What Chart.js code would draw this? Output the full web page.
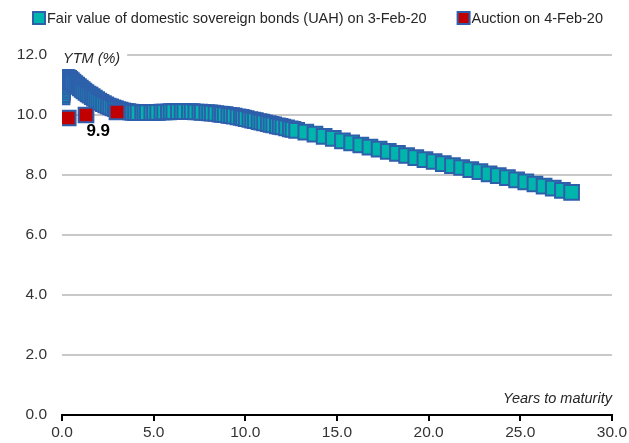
<!DOCTYPE html>
<html>
<head>
<meta charset="utf-8">
<script src="https://cdn.jsdelivr.net/npm/chart.js@4.4.1/dist/chart.umd.min.js"></script>
<style>
  html, body { margin: 0; padding: 0; background: #ffffff; }
  #wrap { width: 629px; height: 443px; }
</style>
</head>
<body>
<div id="wrap"><canvas id="c" width="629" height="443"></canvas></div>
<script>
// Fair value curve of domestic sovereign bonds (UAH), 3-Feb-20
const fairYears = [
  0.00, 0.01, 0.02, 0.03, 0.04, 0.05, 0.06, 0.08, 0.10, 0.12,
  0.15, 0.19, 0.24, 0.30, 0.36, 0.43, 0.51, 0.60, 0.70, 0.80,
  0.90, 1.00, 1.10, 1.20, 1.31, 1.42, 1.53, 1.65, 1.77, 1.89,
  2.01, 2.13, 2.26, 2.39, 2.52, 2.65, 2.78, 2.91, 3.04, 3.17,
  3.31, 3.45, 3.59, 3.73, 3.87, 4.01, 4.15, 4.40, 4.52, 4.65,
  4.90, 5.05, 5.22, 5.45, 5.60, 5.80, 5.95, 6.10, 6.35, 6.55,
  6.70, 6.95, 7.10, 7.30, 7.52, 7.65, 7.90, 8.05, 8.20, 8.40,
  8.62, 8.75, 8.90, 9.10, 9.25, 9.40, 9.60, 9.78, 9.90, 10.05,
  10.25, 10.40, 10.55, 10.75, 10.90, 11.05, 11.25, 11.40, 11.55, 11.75,
  11.90, 12.05, 12.25, 12.45, 12.60, 12.80, 13.30, 13.80, 14.30, 14.80,
  15.30, 15.80, 16.30, 16.80, 17.30, 17.80, 18.30, 18.80, 19.30, 19.80,
  20.30, 20.80, 21.30, 21.80, 22.30, 22.80, 23.30, 23.80, 24.30, 24.80,
  25.30, 25.80, 26.30, 26.80, 27.30, 27.80
];
const fairYtm = [
  10.60, 10.68, 10.76, 10.84, 10.92, 10.99, 11.05, 11.11, 11.16, 11.20,
  11.23, 11.25, 11.25, 11.24, 11.22, 11.19, 11.15, 11.10, 11.05, 11.00,
  10.95, 10.90, 10.85, 10.80, 10.75, 10.70, 10.66, 10.61, 10.56, 10.51,
  10.46, 10.42, 10.38, 10.34, 10.30, 10.27, 10.24, 10.21, 10.18, 10.16,
  10.14, 10.12, 10.11, 10.10, 10.09, 10.08, 10.08, 10.08, 10.08, 10.08,
  10.08, 10.09, 10.09, 10.10, 10.10, 10.10, 10.11, 10.11, 10.11, 10.11,
  10.11, 10.11, 10.11, 10.10, 10.10, 10.09, 10.08, 10.07, 10.06, 10.05,
  10.03, 10.02, 10.01, 9.99, 9.98, 9.96, 9.94, 9.92, 9.90, 9.88,
  9.85, 9.83, 9.81, 9.78, 9.76, 9.74, 9.71, 9.69, 9.67, 9.64,
  9.62, 9.60, 9.57, 9.54, 9.52, 9.49, 9.43, 9.36, 9.29, 9.22,
  9.14, 9.07, 9.00, 8.93, 8.86, 8.79, 8.72, 8.65, 8.58, 8.51,
  8.45, 8.38, 8.31, 8.25, 8.18, 8.11, 8.04, 7.98, 7.91, 7.84,
  7.77, 7.70, 7.63, 7.56, 7.49, 7.42
];

// Primary auction results, 4-Feb-20
const auctionYears = [0.34, 1.31, 3.00];
const auctionYtm = [9.9, 10.0, 10.1];
const labelledAuction = 0;

const xTicks = [0, 5, 10, 15, 20, 25, 30];
const yTicks = [0, 2, 4, 6, 8, 10, 12];

const fairName = 'Fair value of domestic sovereign bonds (UAH) on 3-Feb-20';
const auctionName = 'Auction on 4-Feb-20';
const yTitle = 'YTM (%)';
const xTitle = 'Years to maturity';

const TEAL = '#00b5ab';
const BLUE = '#2e5fab';
const RED = '#c00000';
const FONT = "'Liberation Sans', Arial, sans-serif";

const fairPoints = fairYears.map((x, i) => ({ x: x, y: fairYtm[i] }));
const auctionPoints = auctionYears.map((x, i) => ({ x: x, y: auctionYtm[i] }));

const overlay = {
  id: 'overlay',
  afterDraw(chart) {
    const ctx = chart.ctx;
    const area = chart.chartArea;
    const xs = chart.scales.x;
    const ys = chart.scales.y;
    ctx.save();

    // legend
    ctx.font = '14.5px ' + FONT;
    ctx.textBaseline = 'middle';
    ctx.textAlign = 'left';
    const items = [[fairName, TEAL], [auctionName, RED]];
    let lx = 33;
    const ly = 18;
    items.forEach(([txt, fill]) => {
      ctx.fillStyle = fill;
      ctx.strokeStyle = BLUE;
      ctx.lineWidth = 2;
      ctx.fillRect(lx, ly - 6, 12, 12);
      ctx.strokeRect(lx, ly - 6, 12, 12);
      ctx.fillStyle = '#262626';
      ctx.fillText(txt, lx + 14, ly + 1);
      lx += 14 + ctx.measureText(txt).width + 31;
    });

    // y axis title sitting on the top gridline
    ctx.font = 'italic 14.5px ' + FONT;
    const tw = ctx.measureText(yTitle).width;
    const ty = ys.getPixelForValue(yTicks[yTicks.length - 1]);
    ctx.fillStyle = '#ffffff';
    ctx.fillRect(area.left, ty - 3, tw + 8, 6);
    ctx.fillStyle = '#262626';
    ctx.fillText(yTitle, area.left + 1, ty + 4);

    // x axis title
    ctx.textAlign = 'right';
    ctx.fillText(xTitle, area.right, area.bottom - 16);

    // value label of the auction point
    const p = auctionPoints[labelledAuction];
    const px = xs.getPixelForValue(p.x);
    const py = ys.getPixelForValue(p.y);
    ctx.font = 'bold 17px ' + FONT;
    ctx.textAlign = 'center';
    ctx.fillStyle = '#000';
    ctx.fillText(p.y.toFixed(1), px + 30, py + 13);
    ctx.restore();
  }
};

new Chart(document.getElementById('c'), {
  type: 'scatter',
  data: {
    datasets: [
      {
        label: auctionName,
        data: auctionPoints,
        pointStyle: 'rect',
        pointRadius: 10.4,
        pointHoverRadius: 10.4,
        backgroundColor: RED,
        borderColor: BLUE,
        borderWidth: 2,
        order: 0
      },
      {
        label: fairName,
        data: fairPoints,
        pointStyle: 'rect',
        pointRadius: 10.4,
        pointHoverRadius: 10.4,
        backgroundColor: TEAL,
        borderColor: BLUE,
        borderWidth: 2,
        order: 1
      }
    ]
  },
  options: {
    responsive: false,
    animation: false,
    devicePixelRatio: 1,
    layout: { padding: { top: 55, right: 17, left: 0, bottom: 0 } },
    plugins: { legend: { display: false }, tooltip: { enabled: false }, title: { display: false } },
    scales: {
      x: {
        type: 'linear',
        min: xTicks[0],
        max: xTicks[xTicks.length - 1],
        afterBuildTicks(scale) { scale.ticks = xTicks.map(v => ({ value: v })); },
        afterFit(scale) { scale.height = 28; },
        grid: { drawOnChartArea: false, drawTicks: true, tickLength: 6, color: '#000', lineWidth: 2 },
        border: { display: true, color: '#000', width: 2 },
        ticks: { color: '#333', font: { family: FONT, size: 15.5 }, padding: 2, maxRotation: 0,
                 callback: v => Number(v).toFixed(1) }
      },
      y: {
        type: 'linear',
        min: yTicks[0],
        max: yTicks[yTicks.length - 1],
        afterBuildTicks(scale) { scale.ticks = yTicks.map(v => ({ value: v })); },
        afterFit(scale) { scale.width = 62; },
        grid: { drawTicks: false, lineWidth: 2,
                color: c => (c.tick && c.tick.value === 0) ? 'rgba(0,0,0,0)' : '#c8c8c8' },
        border: { display: false },
        ticks: { color: '#333', font: { family: FONT, size: 15.5 }, padding: 15,
                 callback: v => Number(v).toFixed(1) }
      }
    }
  },
  plugins: [overlay]
});
</script>
</body>
</html>
